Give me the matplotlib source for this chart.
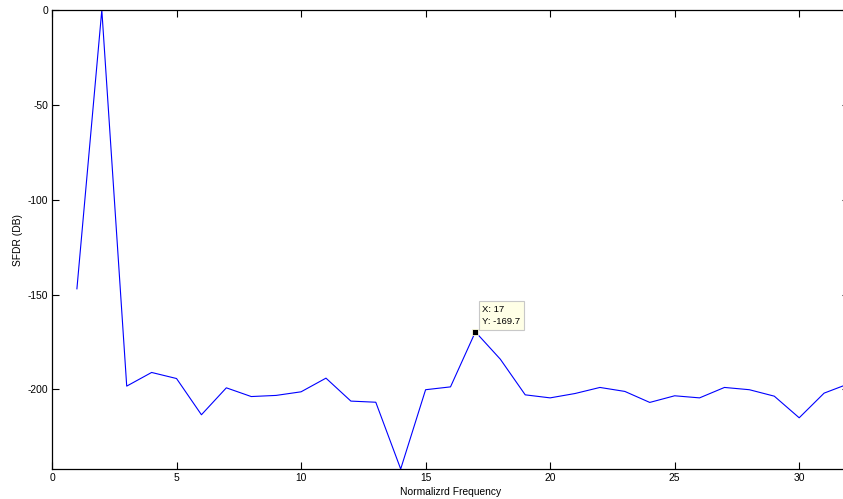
import matplotlib
matplotlib.use("Agg")
import matplotlib.pyplot as plt
import numpy as np

# Spectrum bins and measured SFDR level (dB)
freq_bins = np.arange(1, 33)
sfdr_db = [
    -147.0, 0.0, -198.3, -191.1, -194.3, -213.4, -199.2, -203.8,
    -203.2, -201.3, -194.1, -206.2, -206.8, -242.0, -200.2, -198.7,
    -169.7, -184.1, -202.9, -204.5, -202.2, -199.0, -201.1, -206.9,
    -203.4, -204.5, -199.0, -200.2, -203.6, -215.0, -202.0, -197.0,
]
x_ticks = [0, 5, 10, 15, 20, 25, 30]
y_ticks = [0, -50, -100, -150, -200]

# data tip
tip_x = 17
tip_y = -169.7

plt.rcParams["font.family"] = ["Liberation Sans", "DejaVu Sans"]
plt.rcParams["axes.unicode_minus"] = False

fs = 7.4

fig = plt.figure(figsize=(8.43, 4.99), dpi=100)
# axes run slightly past the right edge of the canvas
ax = fig.add_axes([52 / 843, 1 - 469 / 499, 797 / 843, 459 / 499])

ax.plot(freq_bins, sfdr_db, color="#0000ff", linewidth=0.8)

ax.set_xlim(0, 32)
ax.set_ylim(min(sfdr_db), 0)
ax.set_xticks(x_ticks)
ax.set_yticks(y_ticks)
ax.tick_params(direction="in", length=5, width=0.8, labelsize=fs,
               top=True, right=True, colors="black")
ax.tick_params(axis="x", pad=3)
ax.tick_params(axis="y", pad=2.5)
for sp in ax.spines.values():
    sp.set_linewidth(0.9)

ax.set_xlabel("Normalizrd Frequency", fontsize=fs, labelpad=2.5)
ax.set_ylabel("SFDR (DB)", fontsize=fs, labelpad=3.5)

ax.plot([tip_x], [tip_y], marker="s", markersize=5, color="black",
        markeredgecolor="#ffffe0", markeredgewidth=0.6, zorder=5)
ax.annotate(f"X: {tip_x}\nY: {tip_y}", xy=(tip_x, tip_y),
            xytext=(7, 6), textcoords="offset pixels",
            ha="left", va="bottom", fontsize=6.8, linespacing=1.45,
            bbox=dict(boxstyle="square,pad=0.4", facecolor="#ffffe6",
                      edgecolor="#c8c8c8", linewidth=0.8),
            zorder=6)

fig.savefig("out.png", dpi=100)
